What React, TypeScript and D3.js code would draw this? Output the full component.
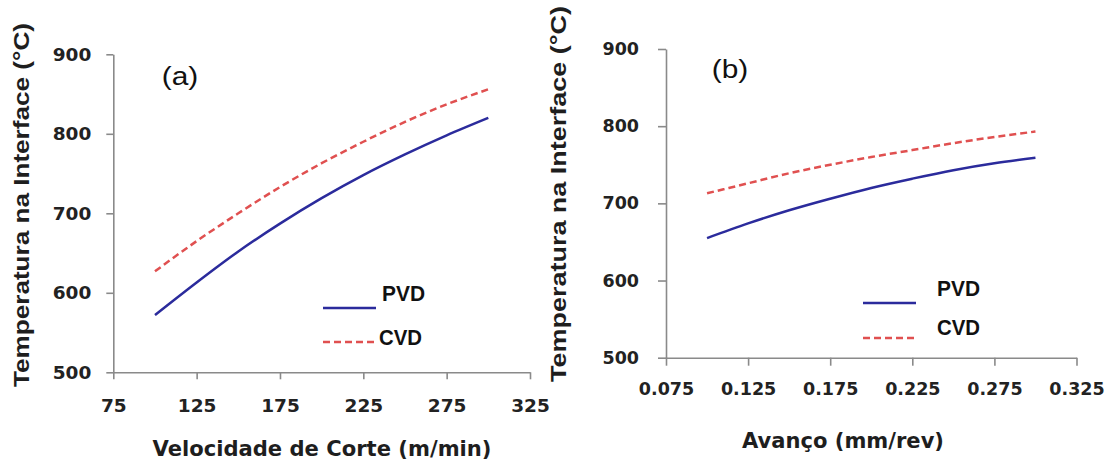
import React, { useEffect, useRef } from 'react';
import * as d3 from 'd3';

// (a) cutting speed (m/min) vs interface temperature
const speeds = [100, 125, 150, 175, 200, 225, 250, 275, 300];
const pvdSpeed = [572, 613, 652, 687, 719, 748, 774, 798, 820];
const cvdSpeed = [627, 665, 700, 733, 763, 790, 815, 837, 856];

// (b) feed (mm/rev) vs interface temperature
const feeds = [0.1, 0.125, 0.15, 0.175, 0.2, 0.225, 0.25, 0.275, 0.3];
const pvdFeed = [655, 674, 691, 706, 720, 732, 743, 752, 759];
const cvdFeed = [713, 726, 739, 750, 760, 769, 778, 786, 793];

const speedTicks = [75, 125, 175, 225, 275, 325];
const feedTicks = [0.075, 0.125, 0.175, 0.225, 0.275, 0.325];
const tempTicks = [500, 600, 700, 800, 900];
const seriesNames = ['PVD', 'CVD'];

const yTitle = 'Temperatura na Interface (°C)';
const colors = { PVD: '#2b2b9c', CVD: '#e05050' };

const App = () => {
    const svgRef = useRef(null);

    useEffect(() => {
        const svg = d3.select(svgRef.current);
        svg.selectAll('*').remove();

        const panels = [
            {
                xs: speeds, pvd: pvdSpeed, cvd: cvdSpeed, xTicks: speedTicks,
                xDomain: [75, 325], xRange: [113.3, 530], yRange: [372.3, 54.3],
                fmt: d => String(d), tick: 7, yPad: 15, xPad: 20, font: 18.5,
                tag: '(a)', tagX: 161.7, tagY: 84.5,
                xTitle: 'Velocidade de Corte (m/min)', xTitleX: 322, xTitleY: 456, xTitleLen: 339,
                yTitleX: 29, yTitleY: 205, yTitleLen: 364,
                legX: 323, legY: [308, 342], legTextX: [382, 379], legTextY: [301, 345],
            },
            {
                xs: feeds, pvd: pvdFeed, cvd: cvdFeed, xTicks: feedTicks,
                xDomain: [0.075, 0.325], xRange: [666, 1076.5], yRange: [357.7, 49],
                fmt: d3.format('.3f'), tick: 8, yPad: 19, xPad: 17, font: 17.5,
                tag: '(b)', tagX: 711.7, tagY: 78,
                xTitle: 'Avanço (mm/rev)', xTitleX: 843, xTitleY: 448, xTitleLen: 202,
                yTitleX: 566, yTitleY: 194, yTitleLen: 376,
                legX: 863, legY: [303, 338], legTextX: [937, 937], legTextY: [296, 335],
            },
        ];

        panels.forEach(p => {
            const x = d3.scaleLinear().domain(p.xDomain).range(p.xRange);
            const y = d3.scaleLinear().domain([500, 900]).range(p.yRange);
            const g = svg.append('g');

            // X axis
            const xAxis = g.append('g')
                .attr('transform', `translate(0,${p.yRange[0]})`)
                .call(d3.axisBottom(x).tickValues(p.xTicks).tickFormat(p.fmt)
                    .tickSize(p.tick).tickSizeOuter(0).tickPadding(p.xPad));

            // Y axis
            const yAxis = g.append('g')
                .attr('transform', `translate(${p.xRange[0]},0)`)
                .call(d3.axisLeft(y).tickValues(tempTicks)
                    .tickSize(p.tick).tickSizeOuter(0).tickPadding(p.yPad));

            [xAxis, yAxis].forEach(a => {
                a.select('.domain').attr('stroke', '#8a8a8a').attr('stroke-width', 1.6);
                a.selectAll('.tick line').attr('stroke', '#8a8a8a').attr('stroke-width', 1.6);
                a.selectAll('.tick text')
                    .attr('fill', '#222')
                    .style('font-family', '"DejaVu Sans", Verdana, sans-serif')
                    .style('font-weight', 'bold')
                    .style('font-size', `${p.font}px`);
            });

            // Curves
            const line = d3.line()
                .x((d, i) => x(p.xs[i]))
                .y(d => y(d))
                .curve(d3.curveMonotoneX);

            g.append('path')
                .datum(p.pvd)
                .attr('d', line)
                .attr('fill', 'none')
                .attr('stroke', colors.PVD)
                .attr('stroke-width', 2.5);

            g.append('path')
                .datum(p.cvd)
                .attr('d', line)
                .attr('fill', 'none')
                .attr('stroke', colors.CVD)
                .attr('stroke-width', 2.5)
                .attr('stroke-dasharray', '7,4');

            // Panel tag
            g.append('text')
                .attr('x', p.tagX)
                .attr('y', p.tagY)
                .attr('textLength', 36.5)
                .attr('lengthAdjust', 'spacingAndGlyphs')
                .style('font-family', '"Liberation Sans", Arial, sans-serif')
                .style('font-size', '25px')
                .attr('fill', '#111')
                .text(p.tag);

            // X title
            g.append('text')
                .attr('x', p.xTitleX)
                .attr('y', p.xTitleY)
                .attr('text-anchor', 'middle')
                .attr('textLength', p.xTitleLen)
                .attr('lengthAdjust', 'spacingAndGlyphs')
                .style('font-family', '"DejaVu Sans", Verdana, sans-serif')
                .style('font-weight', 'bold')
                .style('font-size', '21px')
                .attr('fill', '#1e1e1e')
                .text(p.xTitle);

            // Y title
            g.append('text')
                .attr('transform', `translate(${p.yTitleX},${p.yTitleY})rotate(-90)`)
                .attr('text-anchor', 'middle')
                .attr('textLength', p.yTitleLen)
                .attr('lengthAdjust', 'spacingAndGlyphs')
                .style('font-family', '"Liberation Sans", Arial, sans-serif')
                .style('font-weight', 'bold')
                .style('font-size', '21.5px')
                .attr('fill', '#1e1e1e')
                .text(yTitle);

            // Legend
            seriesNames.forEach((name, i) => {
                g.append('line')
                    .attr('x1', p.legX)
                    .attr('x2', p.legX + 53)
                    .attr('y1', p.legY[i])
                    .attr('y2', p.legY[i])
                    .attr('stroke', colors[name])
                    .attr('stroke-width', 2.5)
                    .attr('stroke-dasharray', name === 'CVD' ? '7,4' : null);

                g.append('text')
                    .attr('x', p.legTextX[i])
                    .attr('y', p.legTextY[i])
                    .attr('textLength', 43)
                    .attr('lengthAdjust', 'spacingAndGlyphs')
                    .style('font-family', '"Liberation Sans", Arial, sans-serif')
                    .style('font-weight', 'bold')
                    .style('font-size', '22px')
                    .attr('fill', '#111')
                    .text(name);
            });
        });
    }, []);

    return (
        <div>
            <svg
                ref={svgRef}
                width={1106}
                height={461}
                style={{ position: 'absolute', left: 0, top: 0, background: '#fff' }}
            ></svg>
        </div>
    );
};

export default App;
